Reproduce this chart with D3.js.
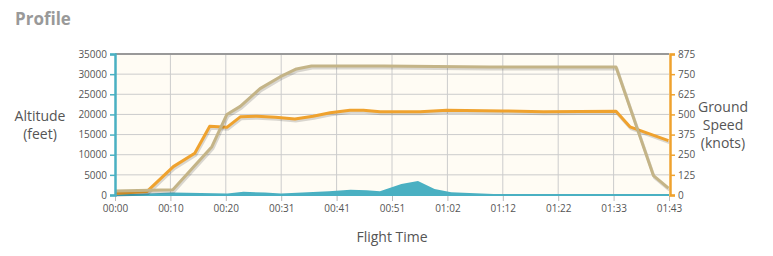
<!DOCTYPE html>
<html>
<head>
<meta charset="utf-8">
<script src="https://cdn.jsdelivr.net/npm/d3@7"></script>
<style>
  body { margin: 0; background: #fff; font-family: "Open Sans", sans-serif; }
  .tick text { fill: #555; font-size: 10px; font-family: "Open Sans", sans-serif; }
  .axis-title { fill: #555; font-size: 14px; }
</style>
</head>
<body>
<div id="chart"></div>
<script>
/* DATA */
// time in minutes since departure
const altTimes = [0, 10.8, 18.1, 20.9, 23.4, 27.1, 30.8, 33.9, 36.7, 50, 70, 93.6, 100.6, 103.4];
const altValues = [1000, 1300, 12000, 20000, 22000, 26400, 29300, 31300, 32000, 32000, 31800, 31800, 4800, 1700];

const speedTimes = [0, 6, 10.9, 14.9, 17.7, 20.9, 23.4, 26.5, 30, 33.6, 37, 40.2, 43.9, 46.4, 49.5, 57, 62, 72.5, 80, 93.6, 96.2, 103.4];
const speedValues = [10, 22, 176, 259, 427, 420, 485, 489, 482, 472, 489, 510, 526, 526, 516, 516, 526, 522, 516, 520, 423, 337];

const terrainTimes = [0, 5, 10.8, 16, 21, 24, 28, 31, 36, 40, 44, 47, 49.5, 53.5, 56.6, 59.7, 62.8, 69.6, 73, 80, 103.5];
const terrainValues = [0, 300, 600, 500, 400, 800, 600, 400, 700, 900, 1300, 1200, 900, 2700, 3500, 1500, 700, 300, 100, 50, 0];

const xTickLabels = ["00:00", "00:10", "00:20", "00:31", "00:41", "00:51", "01:02", "01:12", "01:22", "01:33", "01:43"];
const altTicks = [0, 5000, 10000, 15000, 20000, 25000, 30000, 35000];
const speedTicks = [0, 125, 250, 375, 500, 625, 750, 875];
const totalMinutes = 103.5;

/* LAYOUT */
const width = 773, height = 256;
const margin = { top: 54, bottom: 61, left: 115, right: 104 };

const svg = d3.select("#chart").append("svg")
  .attr("width", width)
  .attr("height", height);

const xScale = d3.scaleLinear()
  .domain([0, totalMinutes])
  .range([margin.left, width - margin.right]);

const yAlt = d3.scaleLinear()
  .domain([0, 35000])
  .range([height - margin.bottom, margin.top]);

const ySpeed = d3.scaleLinear()
  .domain([0, 875])
  .range([height - margin.bottom, margin.top]);

const xTickValues = xTickLabels.map((d, i) => i * totalMinutes / (xTickLabels.length - 1));

// title
svg.append("text")
  .attr("x", 15).attr("y", 25)
  .attr("fill", "#999")
  .attr("font-size", 17)
  .attr("font-weight", "bold")
  .text("Profile");

// plot background
svg.append("rect")
  .attr("x", margin.left).attr("y", margin.top)
  .attr("width", xScale(totalMinutes) - margin.left)
  .attr("height", yAlt(0) - margin.top)
  .attr("fill", "#fffcf4");

// grid
svg.append("g")
  .selectAll("line.h")
  .data(altTicks.slice(1))
  .join("line")
  .attr("x1", margin.left).attr("x2", xScale(totalMinutes))
  .attr("y1", d => yAlt(d)).attr("y2", d => yAlt(d))
  .attr("stroke", "#ccc");

svg.append("g")
  .selectAll("line.v")
  .data(xTickValues.slice(1, -1))
  .join("line")
  .attr("x1", d => xScale(d)).attr("x2", d => xScale(d))
  .attr("y1", margin.top).attr("y2", yAlt(0))
  .attr("stroke", "#ccc");

// top border
svg.append("line")
  .attr("x1", margin.left).attr("x2", xScale(totalMinutes))
  .attr("y1", margin.top).attr("y2", margin.top)
  .attr("stroke", "#999").attr("stroke-width", 2);

// terrain area
const area = d3.area()
  .x((d, i) => xScale(terrainTimes[i]))
  .y0(yAlt(0))
  .y1(d => yAlt(d));

svg.append("path")
  .datum(terrainValues)
  .attr("fill", "#4ab0c2")
  .attr("d", area);

svg.append("line")
  .attr("x1", margin.left).attr("x2", xScale(totalMinutes))
  .attr("y1", yAlt(0)).attr("y2", yAlt(0))
  .attr("stroke", "#4ab0c2").attr("stroke-width", 2);

// lines with shadow
function drawLine(times, values, yScale, color) {
  const line = d3.line()
    .x((d, i) => xScale(times[i]))
    .y(d => yScale(d));
  svg.append("path")
    .datum(values)
    .attr("fill", "none")
    .attr("stroke", "#000")
    .attr("stroke-opacity", 0.15)
    .attr("stroke-width", 3)
    .attr("transform", "translate(1,2)")
    .attr("d", line);
  svg.append("path")
    .datum(values)
    .attr("fill", "none")
    .attr("stroke", color)
    .attr("stroke-width", 3)
    .attr("stroke-linejoin", "round")
    .attr("d", line);
}

drawLine(speedTimes, speedValues, ySpeed, "#efa22e");
drawLine(altTimes, altValues, yAlt, "#c4b487");

// axes
const xAxisGroup = svg.append("g")
  .attr("transform", `translate(0, ${yAlt(0) + 1})`)
  .call(d3.axisBottom(xScale)
    .tickValues(xTickValues)
    .tickFormat((d, i) => xTickLabels[i])
    .tickSize(5)
    .tickPadding(4));
xAxisGroup.select(".domain").remove();
xAxisGroup.selectAll(".tick line").attr("stroke", "#bbb");

const yAxisGroup = svg.append("g")
  .attr("transform", `translate(${margin.left}, 0)`)
  .call(d3.axisLeft(yAlt).tickValues(altTicks).tickFormat(d3.format("d")).tickSize(5).tickPadding(3));
yAxisGroup.select(".domain").attr("stroke", "#4ab0c2").attr("stroke-width", 2.5);
yAxisGroup.selectAll(".tick line").attr("stroke", "#4ab0c2").attr("stroke-width", 1.5);

const ySpeedGroup = svg.append("g")
  .attr("transform", `translate(${xScale(totalMinutes) + 1}, 0)`)
  .call(d3.axisRight(ySpeed).tickValues(speedTicks).tickFormat(d3.format("d")).tickSize(5).tickPadding(3));
ySpeedGroup.select(".domain").attr("stroke", "#efa22e").attr("stroke-width", 2.5);
ySpeedGroup.selectAll(".tick line").attr("stroke", "#efa22e").attr("stroke-width", 1.5);

// axis titles
svg.append("text")
  .attr("class", "axis-title")
  .attr("x", (margin.left + xScale(totalMinutes)) / 2)
  .attr("y", 242)
  .attr("text-anchor", "middle")
  .text("Flight Time");

svg.append("text")
  .attr("class", "axis-title")
  .attr("text-anchor", "middle")
  .selectAll("tspan")
  .data(["Altitude", "(feet)"])
  .join("tspan")
  .attr("x", 40)
  .attr("y", (d, i) => 121 + i * 18)
  .text(d => d);

svg.append("text")
  .attr("class", "axis-title")
  .attr("text-anchor", "middle")
  .selectAll("tspan")
  .data(["Ground", "Speed", "(knots)"])
  .join("tspan")
  .attr("x", 723)
  .attr("y", (d, i) => 112 + i * 18)
  .text(d => d);
</script>
</body>
</html>
